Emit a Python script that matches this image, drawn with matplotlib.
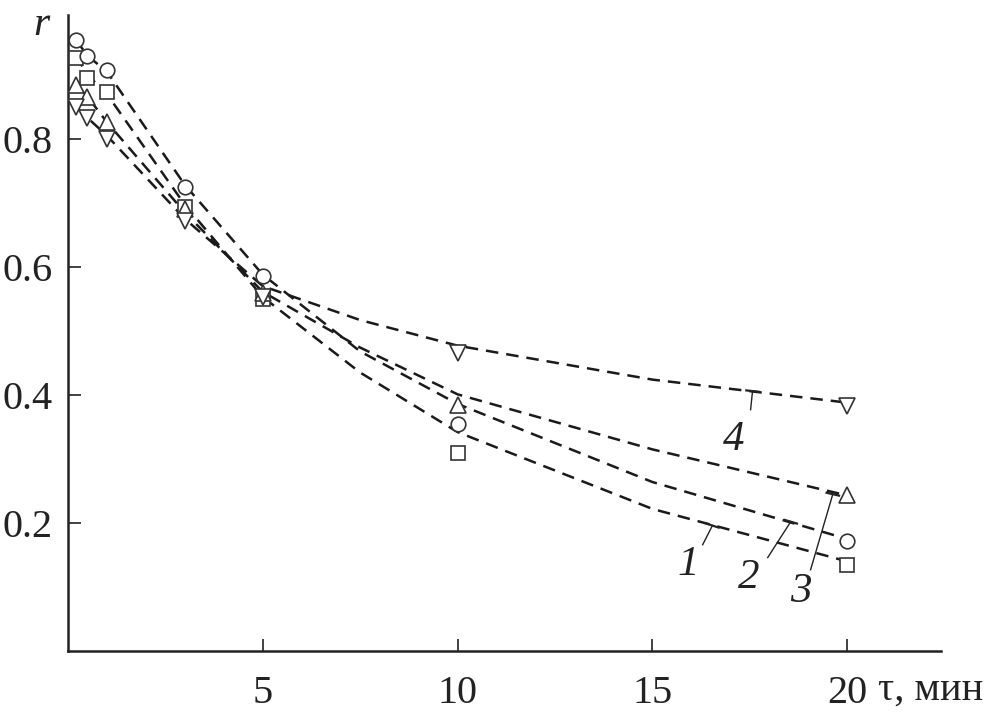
import matplotlib
matplotlib.use("Agg")
import matplotlib.pyplot as plt

# ---- data ----
x_pts = [0.2, 0.5, 1, 3, 5, 10, 20]
r_circle = [0.955, 0.929, 0.907, 0.725, 0.586, 0.354, 0.172]
r_square = [0.926, 0.895, 0.874, 0.694, 0.550, 0.309, 0.134]
r_tri_up = [0.885, 0.866, 0.827, 0.690, 0.560, 0.385, 0.243]
r_tri_down = [0.850, 0.833, 0.800, 0.672, 0.553, 0.465, 0.382]

x_fit = [0.2, 0.5, 1, 3, 5, 7.5, 10, 15, 20]
fit1 = [0.930, 0.900, 0.870, 0.697, 0.553, 0.435, 0.342, 0.222, 0.140]
fit2 = [0.955, 0.930, 0.905, 0.728, 0.588, 0.468, 0.386, 0.264, 0.175]
fit3 = [0.885, 0.866, 0.826, 0.685, 0.561, 0.474, 0.401, 0.315, 0.243]
fit4 = [0.850, 0.833, 0.805, 0.675, 0.570, 0.517, 0.477, 0.424, 0.388]

x_ticks = [5, 10, 15, 20]
x_ticklabels = ["5", "10", "15", "20"]
y_ticks = [0.2, 0.4, 0.6, 0.8]
y_ticklabels = ["0.2", "0.4", "0.6", "0.8"]

curve_labels = ["1", "2", "3", "4"]

SERIF = ["Liberation Serif", "DejaVu Serif"]
INK = "#222222"
MK = "#333333"

fig = plt.figure(figsize=(9.94, 7.15), dpi=100)
ax = fig.add_axes([0.0684, 0.0895, 0.878, 0.889])
ax.set_xlim(0, 22.4)
ax.set_ylim(0, 0.993)

dash = dict(color="#1a1a1a", lw=1.8, dashes=(5, 3.2), zorder=2)
for f in (fit1, fit2, fit3, fit4):
    ax.plot(x_fit, f, **dash)

mk = dict(ls="none", mfc="white", mec=MK, mew=1.2, zorder=3)
ax.plot(x_pts, r_square, marker="s", ms=9.5, **mk)
ax.plot(x_pts, r_circle, marker="o", ms=10.5, **mk)
ax.plot(x_pts, r_tri_up, marker="^", ms=11.5, **mk)
ax.plot(x_pts, r_tri_down, marker="v", ms=11.5, **mk)

# leader lines with label numbers: (label pos, leader start, leader end, curve slope)
leaders = [
    ((15.93, 0.134), (16.29, 0.166), (16.54, 0.196), -0.020),
    ((17.47, 0.114), (17.96, 0.146), (18.55, 0.202), -0.018),
    ((18.80, 0.092), (19.06, 0.127), (19.63, 0.245), -0.014),
    ((17.08, 0.330), (17.52, 0.377), (17.57, 0.406), -0.007),
]
for lab, (lp, p0, p1, s) in zip(curve_labels, leaders):
    ax.plot([p0[0], p1[0]], [p0[1], p1[1]], color=INK, lw=1.0, zorder=4)
    d = 0.16
    ax.plot([p1[0] - d, p1[0] + d], [p1[1] - s * d, p1[1] + s * d],
            color=INK, lw=1.6, zorder=4)
    ax.text(lp[0], lp[1], lab, ha="center", va="center", fontsize=31,
            style="italic", family=SERIF, color=INK)

for side in ("top", "right"):
    ax.spines[side].set_visible(False)
for side in ("left", "bottom"):
    ax.spines[side].set_linewidth(1.8)
    ax.spines[side].set_color(INK)

ax.set_xticks(x_ticks)
ax.set_xticklabels(x_ticklabels)
ax.set_yticks(y_ticks)
ax.set_yticklabels(y_ticklabels)
ax.tick_params(axis="both", direction="in", length=9, width=1.2, color=INK,
               labelsize=29, labelcolor=INK)
ax.tick_params(axis="x", pad=17)
ax.tick_params(axis="y", pad=11)
for t in ax.get_xticklabels() + ax.get_yticklabels():
    t.set_family(SERIF)

ax.text(20.8, -0.0615, "τ, мин", transform=ax.get_xaxis_transform(),
        ha="left", va="center", fontsize=29, family=SERIF, color=INK,
        clip_on=False)
ax.text(-0.03, 0.985, "r", transform=ax.transAxes, ha="center", va="center",
        fontsize=30, style="italic", family=SERIF, color=INK)

fig.savefig("out.png", dpi=100)
